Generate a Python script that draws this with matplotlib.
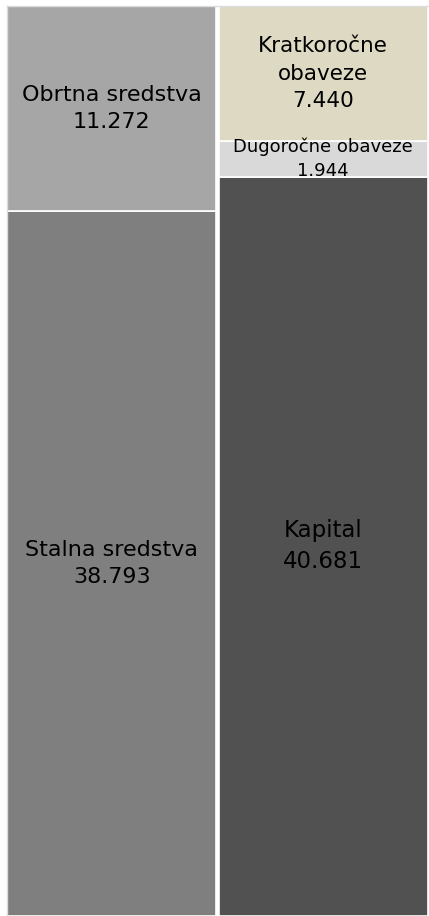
import numpy as np
import matplotlib.pyplot as plt

# Balance sheet structure (in thousands)
assets_labels = ['Stalna sredstva', 'Obrtna sredstva']
assets_values = [38.793, 11.272]
assets_colors = ['#7f7f7f', '#a6a6a6']

liab_labels = ['Kapital', 'Dugoročne obaveze', 'Kratkoročne\nobaveze']
liab_values = [40.681, 1.944, 7.440]
liab_colors = ['#515151', '#d9d9d9', '#ddd9c3']
liab_sizes = [16.5, 13, 15.5]


def fmt(v):
    return f'{v:.3f}'


fig = plt.figure(figsize=(4.29, 9.16), dpi=100)
ax = fig.add_axes([7 / 429, 0, 421 / 429, 910 / 916])

width = 0.99
columns = [
    (0, assets_labels, assets_values, assets_colors, [16, 16]),
    (1, liab_labels, liab_values, liab_colors, liab_sizes),
]
for x, labels, values, colors, sizes in columns:
    bottom = 0
    for lab, val, col, fs in zip(labels, values, colors, sizes):
        bars = ax.bar(x, val, width=width, bottom=bottom, color=col,
                      edgecolor='white', linewidth=1.2)
        t = ax.text(x, bottom + val / 2, f'{lab}\n{fmt(val)}', ha='center',
                    va='center', fontsize=fs, color='black', linespacing=1.45)
        # labels that don't fit get cut off by the segment edge
        t.set_clip_path(bars.patches[0])
        bottom += val

total = sum(assets_values)
ax.set_xlim(-width / 2, 1 + width / 2)
ax.set_ylim(0, total)
ax.set_xticks([])
ax.set_yticks([])
for side in ['right', 'bottom']:
    ax.spines[side].set_visible(False)
for side in ['left', 'top']:
    ax.spines[side].set_color('#dcdcdc')
    ax.spines[side].set_linewidth(1)

fig.savefig('out.png', dpi=100)
